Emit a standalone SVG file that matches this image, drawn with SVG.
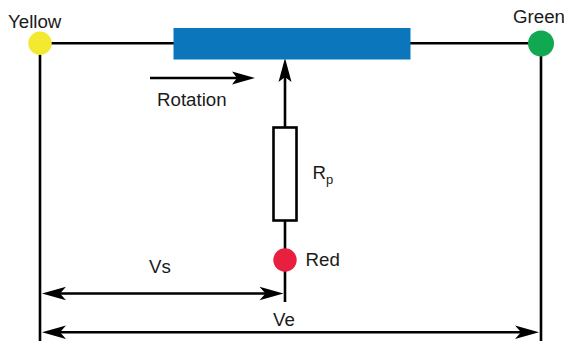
<svg xmlns="http://www.w3.org/2000/svg" width="564" height="341" viewBox="0 0 564 341">
<style>
.w{fill:none;stroke:#000;stroke-width:2.600}
.a{fill:#000}
text{font-family:"Liberation Sans",Arial,sans-serif;font-size:18.700px;fill:#1a1a1a}
</style>
<rect width="564" height="341" fill="#fff"/>
<g id="connectors">
<path class="w" d="M40 43.300H174M410 43.300H541M40 43V341M541 43V341M285 70V128M285 220V302M150 78H240M48 293.500H277M48 332.300H533"/>
<path class="a" d="M255 78L232 71.500L237 78L232 84.500Z"/>
<path class="a" d="M285 58L278.500 82L285 77L291.500 82Z"/>
<path class="a" d="M42 293.500L66 286.800L60 293.500L66 300.200Z"/>
<path class="a" d="M283.500 293.500L259.500 286.800L265.500 293.500L259.500 300.200Z"/>
<path class="a" d="M42 332.300L66 325.600L60 332.300L66 339Z"/>
<path class="a" d="M539 332.300L515 325.600L521 332.300L515 339Z"/>
</g>
<g id="rotor"><rect x="173.500" y="28" width="237" height="31.500" fill="#0b76bc"/></g>
<g id="resistor"><rect x="273.500" y="127.500" width="23" height="93" fill="#fff" stroke="#000" stroke-width="2.600"/><text x="312.500" y="179">R<tspan font-size="13" dy="5">p</tspan></text></g>
<g id="yellow"><circle cx="40" cy="43.300" r="11.700" fill="#f3e92f"/><text x="8" y="28">Yellow</text></g>
<g id="green"><circle cx="541" cy="43.500" r="13" fill="#10a850"/><text x="513" y="23">Green</text></g>
<g id="red"><circle cx="285" cy="260" r="11.700" fill="#e81f3e"/><text x="305.500" y="265.500">Red</text></g>
<g id="labels">
<text x="157" y="106">Rotation</text>
<text x="149" y="272.500">Vs</text>
<text x="273" y="326">Ve</text>
</g>
</svg>
